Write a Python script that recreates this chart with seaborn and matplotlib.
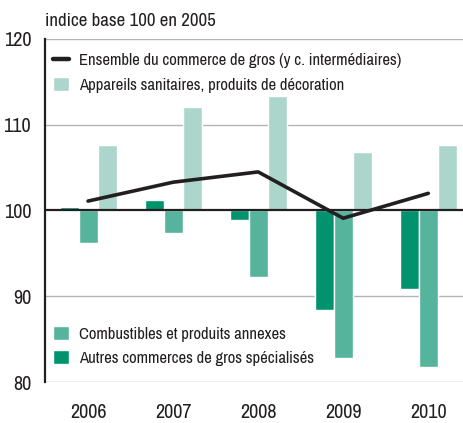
import matplotlib
matplotlib.use("Agg")
import matplotlib.pyplot as plt
import seaborn as sns
import pandas as pd
import numpy as np
from matplotlib.ticker import FuncFormatter
from matplotlib.lines import Line2D
from matplotlib.patches import Patch
from matplotlib import font_manager as fm

years = ["2006", "2007", "2008", "2009", "2010"]
ensemble = [101.1, 103.3, 104.5, 99.1, 102.0]
appareils = [107.6, 112.1, 113.3, 106.8, 107.6]
combustibles = [96.2, 97.35, 92.3, 82.8, 81.7]
autres = [100.4, 101.2, 98.9, 88.4, 90.8]

base = 100
lab_ens = "Ensemble du commerce de gros (y c. intermédiaires)"
lab_app = "Appareils sanitaires, produits de décoration"
lab_comb = "Combustibles et produits annexes"
lab_aut = "Autres commerces de gros spécialisés"

c_light = "#acd6cb"
c_med = "#56b49c"
c_dark = "#00936e"
c_line = "#231f20"

df = pd.DataFrame({
    "year": years * 3,
    "serie": [lab_aut] * 5 + [lab_comb] * 5 + [lab_app] * 5,
    "value": autres + combustibles + appareils,
})
df["dev"] = df["value"] - base

sns.set_theme(style="white")

# choose a condensed font if one is available
fonts = fm.fontManager.ttflist
family, stretch, condensed = "Liberation Sans", "normal", False
for f in fonts:
    if "Narrow" in f.name or "Condensed" in f.name:
        family, condensed = f.name, True
        break
if not condensed:
    for f in fonts:
        if str(f.stretch) in ("condensed", "semi-condensed", "extra-condensed") or \
           (isinstance(f.stretch, int) and f.stretch < 500):
            family, stretch, condensed = f.name, f.stretch, True
            break
plt.rcParams["font.family"] = [family, "DejaVu Sans"]
plt.rcParams["font.stretch"] = stretch

k = 1.0 if condensed else 0.8
tick_fs = 14.5 * (1.0 if condensed else 0.9)
leg_fs = 12 * k
title_fs = 13.6 * k

fig = plt.figure(figsize=(4.64, 4.23), dpi=100)
ax = fig.add_axes([45 / 464, 1 - 382 / 423, 1 - 45 / 464, (382 - 39) / 423])

sns.barplot(data=df, x="year", y="dev", hue="serie",
            hue_order=[lab_aut, lab_comb, lab_app],
            palette=[c_dark, c_med, c_light], width=0.67,
            saturation=1, legend=False, ax=ax, zorder=2)

ax.set_ylim(-20, 20)
ax.set_xlim(-0.506, 4.42)
for v in [-20, -10, 10, 20]:
    ax.axhline(v, color="#b3b3b3", lw=1.0, zorder=1)
ax.axhline(0, color=c_line, lw=1.6, zorder=3)

sns.lineplot(x=np.arange(len(years)), y=np.array(ensemble) - base,
             color=c_line, lw=2.6, ax=ax, zorder=4)

ax.set_yticks([-20, -10, 0, 10, 20])
ax.yaxis.set_major_formatter(FuncFormatter(lambda v, p: f"{int(v + base)}"))
ax.tick_params(axis="y", labelsize=tick_fs, pad=10, length=0, colors="#231f20")
ax.tick_params(axis="x", labelsize=tick_fs, pad=15, length=0, colors="#231f20")
ax.set_xlabel("")
ax.set_ylabel("")
for s in ["top", "right", "bottom"]:
    ax.spines[s].set_visible(False)
ax.spines["left"].set_color(c_line)
ax.spines["left"].set_linewidth(1.6)

fig.text(45 / 464, 1 - 21 / 423, "indice base 100 en 2005", fontsize=title_fs,
         color="#231f20", va="center", ha="left")

leg_kw = dict(frameon=False, fontsize=leg_fs, handlelength=0.95,
              handleheight=0.95, handletextpad=0.6, labelspacing=0.5,
              borderaxespad=0.1, labelcolor="#231f20")
h1 = [Line2D([0], [0], color=c_line, lw=3.2), Patch(facecolor=c_light)]
leg1 = ax.legend(h1, [lab_ens, lab_app], loc="upper left",
                 bbox_to_anchor=(0.0, 0.985), **leg_kw)
ax.add_artist(leg1)
h2 = [Patch(facecolor=c_med), Patch(facecolor=c_dark)]
ax.legend(h2, [lab_comb, lab_aut], loc="lower left",
          bbox_to_anchor=(0.0, 0.023), **leg_kw)

fig.savefig("out.png", dpi=100)
